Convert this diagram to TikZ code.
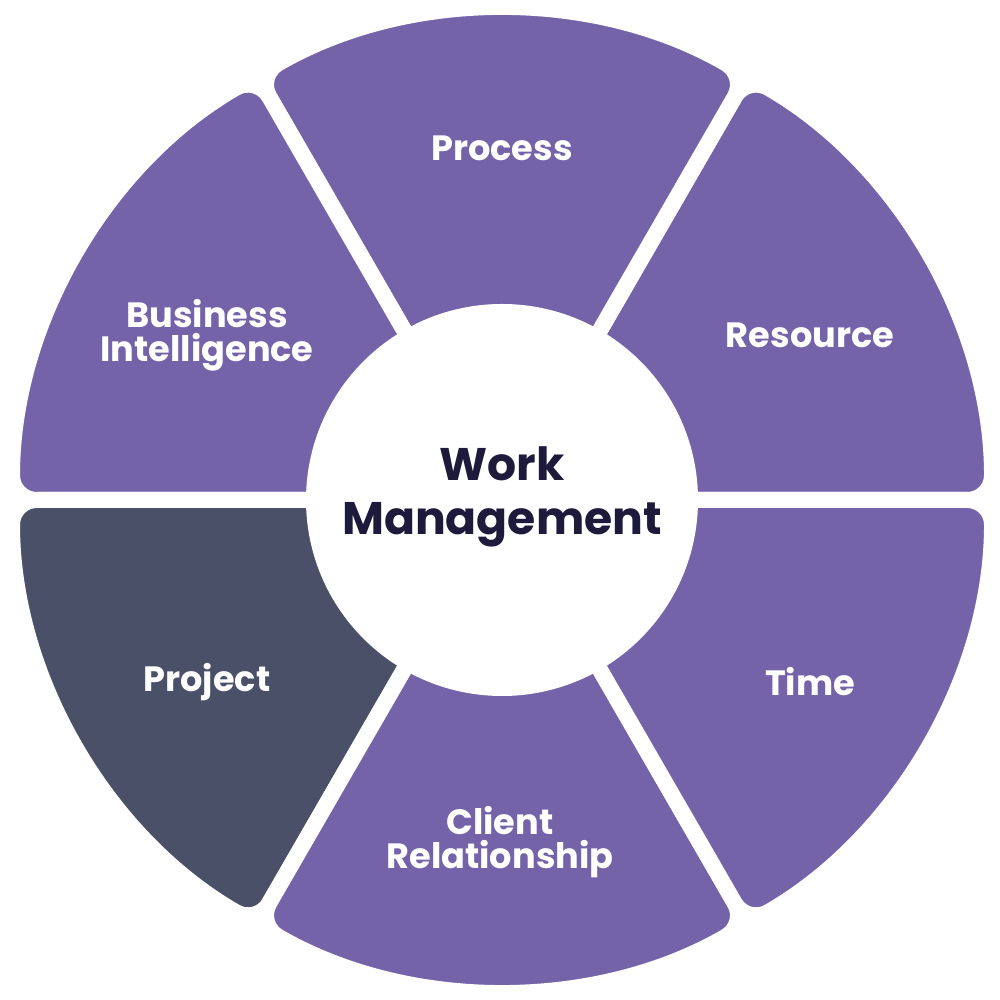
\documentclass[tikz,border=0pt]{standalone}
\usepackage{fontspec}
\setmainfont{Poppins}
\definecolor{wmpurple}{HTML}{7563AA}
\definecolor{wmslate}{HTML}{4A5068}
\definecolor{wmink}{HTML}{1E1A3C}
\tikzset{
  sector/.style={draw=white, line width=0.16cm, rounded corners=7pt, line join=round},
  seclabel/.style={text=white, font=\bfseries\fontsize{10}{9.7}\selectfont, align=center},
}
\begin{document}
\begin{tikzpicture}
        % Canvas
        \useasboundingbox[fill=white] (0,0) rectangle (10,10);

        \begin{scope}[shift={(5.02,5.0)}]
          % Ring of sectors
          \foreach \a/\col in {0/wmpurple, 60/wmpurple, 120/wmpurple, 180/wmslate, 240/wmpurple, 300/wmpurple}
            \draw[sector, fill=\col] (\a:1.5) -- (\a:4.9)
              arc[start angle=\a, end angle=\a+60, radius=4.9]
              -- ({\a+60}:1.5) arc[start angle=\a+60, end angle=\a, radius=1.5] -- cycle;

          % Hub
          \fill[white] (0,0) circle (1.96);
          \node[text=wmink, font=\bfseries\fontsize{13}{15.5}\selectfont, align=center] (hub) at (0,0.03) {Work\\Management};
        \end{scope}

        % Sector labels
        \node[seclabel] (process) at (5.02,8.52) {Process};
        \node[seclabel] (resource) at (8.10,6.65) {Resource};
        \node[seclabel] (time) at (8.10,3.18) {Time};
        \node[seclabel] (client) at (5.00,1.58) {Client\\Relationship};
        \node[seclabel] (project) at (2.07,3.18) {Project};
        \node[seclabel] (bi) at (2.07,6.65) {Business\\Intelligence};
      \end{tikzpicture}
\end{document}
